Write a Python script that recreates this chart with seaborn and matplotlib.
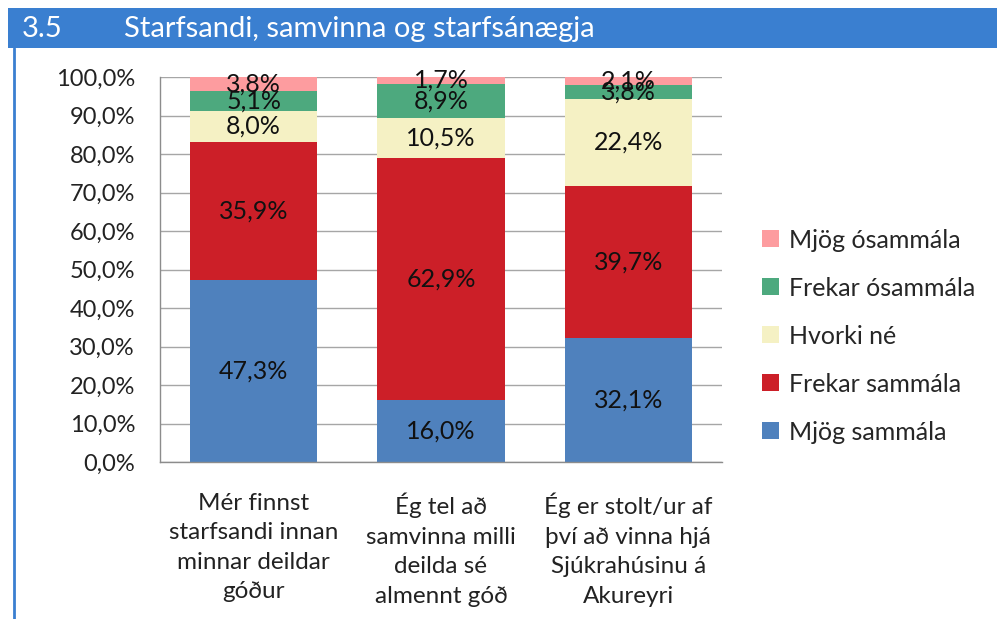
import numpy as np
import pandas as pd
import seaborn as sns
import matplotlib.pyplot as plt
from matplotlib.patches import Rectangle, Patch
from matplotlib.lines import Line2D
from matplotlib.ticker import FuncFormatter, FixedLocator

# ---------- data ----------
categories = ['Mér finnst\nstarfsandi innan\nminnar deildar\ngóður',
              'Ég tel að\nsamvinna milli\ndeilda sé\nalmennt góð',
              'Ég er stolt/ur af\nþví að vinna hjá\nSjúkrahúsinu á\nAkureyri']
series = ['Mjög sammála', 'Frekar sammála', 'Hvorki né', 'Frekar ósammála', 'Mjög ósammála']
mjog_sammala = [47.3, 16.0, 32.1]
frekar_sammala = [35.9, 62.9, 39.7]
hvorki_ne = [8.0, 10.5, 22.4]
frekar_osammala = [5.1, 8.9, 3.8]
mjog_osammala = [3.8, 1.7, 2.1]
colors = ['#4F81BD', '#CC1F28', '#F5F1C4', '#4DA97E', '#FD9C9F']
title_num = '3.5'
title_text = 'Starfsandi, samvinna og starfsánægja'

sns.set_style('white')
plt.rcParams['font.family'] = ['Lato', 'DejaVu Sans']

df = pd.DataFrame({'cat': categories,
                   'Mjög sammála': mjog_sammala,
                   'Frekar sammála': frekar_sammala,
                   'Hvorki né': hvorki_ne,
                   'Frekar ósammála': frekar_osammala,
                   'Mjög ósammála': mjog_osammala})

fig = plt.figure(figsize=(9.97, 6.19), dpi=100)
ax = fig.add_axes([0.1605, 0.2536, 0.5636, 0.622])

bottom = np.zeros(len(categories))
for s, c in zip(series, colors):
    vals = df[s].values / 100
    sns.barplot(x=np.arange(len(categories)), y=vals, bottom=bottom, color=c,
                width=0.68, ax=ax, native_scale=True, saturation=1, linewidth=0)
    for i, v in enumerate(vals):
        ax.text(i, bottom[i] + v / 2, f'{v*100:.1f}%'.replace('.', ','),
                ha='center', va='center', fontsize=18, color='#111111')
    bottom += vals

ax.set_xlim(-0.5, 2.5)
ax.set_ylim(0, 1.0)
ax.set_yticks(np.arange(0, 1.01, 0.1))
ax.yaxis.set_major_formatter(FuncFormatter(lambda v, p: f'{v*100:.1f}%'.replace('.', ',')))
ax.set_xticks(range(len(categories)))
ax.set_xticklabels(categories, fontsize=17.5, linespacing=1.5)
ax.xaxis.set_minor_locator(FixedLocator([-0.5, 0.5, 1.5, 2.5]))
ax.tick_params(axis='x', which='major', length=0, pad=22)
ax.tick_params(axis='x', which='minor', length=8, color='#8C8C8C', width=1, direction='out')
ax.tick_params(axis='y', length=8, color='#8C8C8C', width=1, direction='out', labelsize=17, pad=10)
ax.grid(axis='y', color='#A6A6A6', linewidth=1)
ax.set_axisbelow(True)
for sp in ['top', 'right']:
    ax.spines[sp].set_visible(False)
for sp in ['left', 'bottom']:
    ax.spines[sp].set_color('#8C8C8C')
    ax.spines[sp].set_linewidth(1)
ax.set_xlabel('')
ax.set_ylabel('')
for lab in ax.get_xticklabels() + ax.get_yticklabels():
    lab.set_color('#222222')

handles = [Patch(facecolor=c, edgecolor='none') for c in colors][::-1]
fig.legend(handles, series[::-1], loc='center left', bbox_to_anchor=(0.742, 0.457),
           frameon=False, fontsize=18, labelspacing=1.0, handlelength=0.65,
           handleheight=0.65, handletextpad=0.4)

# title bar and frame line
fig.patches.append(Rectangle((8 / 997, 1 - 48 / 619), 1, 40 / 619, transform=fig.transFigure,
                             facecolor='#3A7FD0', edgecolor='none', zorder=0))
fig.add_artist(Line2D([14 / 997, 14 / 997], [0, 1 - 48 / 619], transform=fig.transFigure,
                      color='#3A7FD0', linewidth=2))
fig.text(22 / 997, 1 - 29 / 619, title_num, color='white', fontsize=21, va='center', ha='left')
fig.text(124 / 997, 1 - 29 / 619, title_text, color='white', fontsize=21, va='center', ha='left')

fig.savefig('out.png', dpi=100)
